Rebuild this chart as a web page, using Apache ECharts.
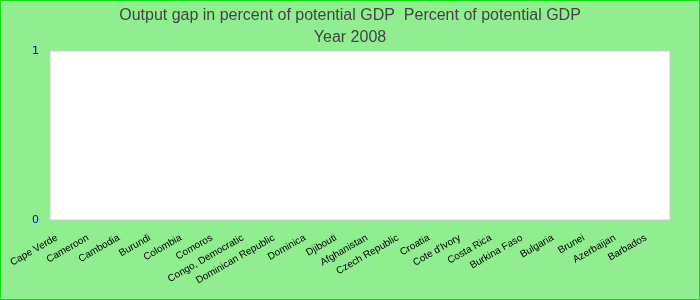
<!DOCTYPE html>
<html><head><meta charset="utf-8">
<script src="https://cdn.jsdelivr.net/npm/echarts@6/dist/echarts.min.js"></script>
<style>html,body{margin:0;padding:0;background:#90EE90}#c{width:700px;height:300px}</style>
</head><body><div id="c"></div>
<script>
const titleLines = ['Output gap in percent of potential GDP  Percent of potential GDP', 'Year 2008'];
const categories = ['Cape Verde','Cameroon','Cambodia','Burundi','Colombia','Comoros','Congo, Democratic','Dominican Republic','Dominica','Djibouti','Afghanistan','Czech Republic','Croatia',"Cote d'Ivory",'Costa Rica','Burkina Faso','Bulgaria','Brunei','Azerbaijan','Barbados'];
const values = [0,0,0,0,0,0,0,0,0,0,0,0,0,0,0,0,0,0,0,0];
const yMin = 0, yMax = 1, yInterval = 1;

const chart = echarts.init(document.getElementById('c'));
chart.setOption({
  backgroundColor: '#90EE90',
  animation: false,
  title: {
    text: titleLines.join('\n'),
    left: 'center', top: 0,
    textStyle: { fontFamily: 'Liberation Sans, Arial', fontSize: 16, fontWeight: 'normal', color: '#444', lineHeight: 22 }
  },
  graphic: [{
    type: 'rect', shape: { x: 0.5, y: 0.5, width: 699, height: 299 },
    style: { fill: 'none', stroke: '#11dd11', lineWidth: 1 }, silent: true, z: 100
  }],
  grid: { left: 50, right: 30, top: 51, bottom: 80, show: true, backgroundColor: '#fff', borderColor: '#ccc', borderWidth: 1 },
  xAxis: {
    type: 'category', data: categories,
    axisLine: { show: false }, axisTick: { show: false },
    axisLabel: { interval: 0, rotate: 30, margin: 12, padding: [0, 10, 0, 0], fontFamily: 'Liberation Sans, Arial', fontSize: 10, color: '#000' }
  },
  yAxis: {
    type: 'value', min: yMin, max: yMax, interval: yInterval,
    axisLine: { show: false }, axisTick: { show: false }, splitLine: { show: false },
    axisLabel: { margin: 11, fontFamily: 'DejaVu Sans', fontSize: 11, color: '#0000cc' }
  },
  series: [{ type: 'bar', data: values, itemStyle: { color: '#3366cc' } }]
});
</script></body></html>
